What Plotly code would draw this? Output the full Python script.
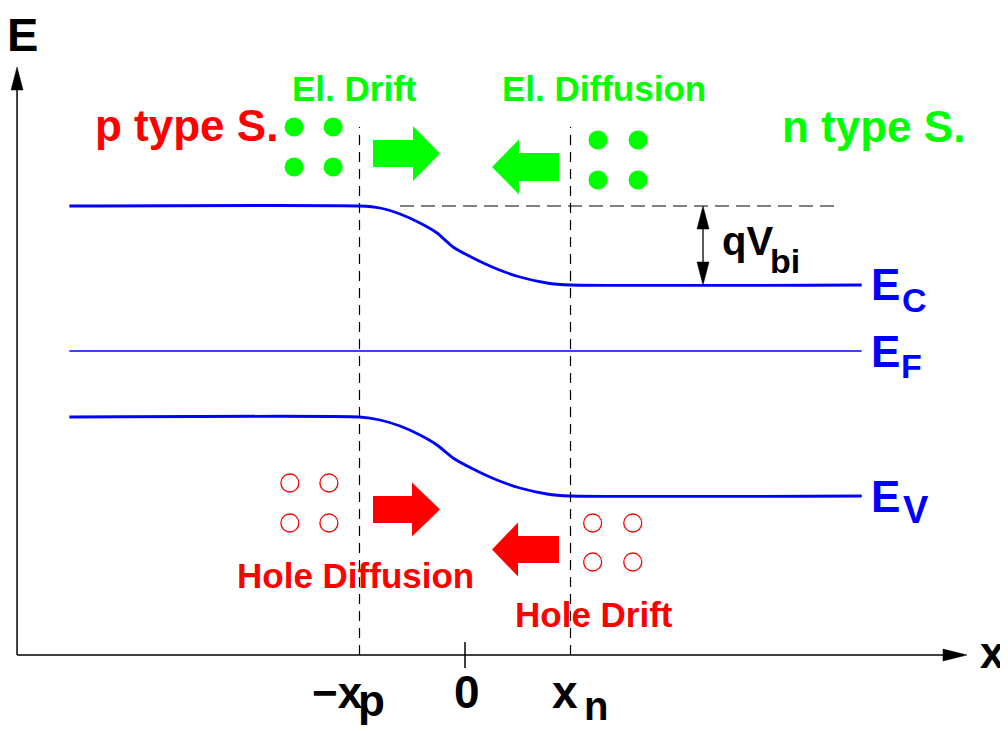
import plotly.graph_objects as go

# ---------------- data (x in units of depletion width, E in arbitrary energy units) -------------
x_band = [-3.75, -1.0, -0.806, -0.616, -0.427, -0.265, -0.114, 0.076, 0.303, 0.521, 0.777, 1.0, 3.76]
Ec = [1.45, 1.45, 1.43, 1.37, 1.28, 1.18, 1.04, 0.93, 0.82, 0.74, 0.68, 0.66, 0.66]
Ev = [-0.66, -0.66, -0.69, -0.75, -0.84, -0.94, -1.07, -1.18, -1.29, -1.37, -1.43, -1.45, -1.45]
x_fermi = [-3.75, 3.76]
Ef = [0.0, 0.0]
x_p, x_n = -1.0, 1.0
tick_zero = 0.0

elec_p_x = [-1.62, -1.25, -1.62, -1.25]
elec_p_E = [2.24, 2.24, 1.84, 1.84]
elec_n_x = [1.26, 1.64, 1.26, 1.64]
elec_n_E = [2.11, 2.11, 1.71, 1.71]
hole_p_x = [-1.66, -1.29, -1.66, -1.29]
hole_p_E = [-1.32, -1.32, -1.72, -1.72]
hole_n_x = [1.21, 1.59, 1.21, 1.59]
hole_n_E = [-1.72, -1.72, -2.11, -2.11]

# ---------------- layout frame ----------------
W, H = 1008, 731
XR = [-4.3318, 5.2227]
YR = [-3.88, 3.43]
sx = W / (XR[1] - XR[0])   # px per x unit
sy = H / (YR[1] - YR[0])   # px per E unit
def dx(p): return p / sx
def dy(p): return p / sy

X0, Y0 = -4.246, -3.04      # axis origin
X_END, Y_END = 4.758, 2.84  # arrow tips

BLUE = "#0000ff"
GREEN = "#00ff00"
RED = "#ff0000"
BLACK = "#000000"
FONT = "Liberation Sans, Arial, Helvetica, sans-serif"

fig = go.Figure()

# bands
band_line = dict(color=BLUE, width=2.8, shape="spline", smoothing=0.5)
fig.add_trace(go.Scatter(x=x_band, y=Ec, mode="lines", line=band_line, hoverinfo="skip"))
fig.add_trace(go.Scatter(x=x_band, y=Ev, mode="lines", line=band_line, hoverinfo="skip"))
fig.add_trace(go.Scatter(x=x_fermi, y=Ef, mode="lines", line=dict(color=BLUE, width=1.5), hoverinfo="skip"))

# carriers
for xs, es in [(elec_p_x, elec_p_E), (elec_n_x, elec_n_E)]:
    fig.add_trace(go.Scatter(x=xs, y=es, mode="markers",
                             marker=dict(size=19, color=GREEN, line=dict(width=0)), hoverinfo="skip"))
for xs, es in [(hole_p_x, hole_p_E), (hole_n_x, hole_n_E)]:
    fig.add_trace(go.Scatter(x=xs, y=es, mode="markers",
                             marker=dict(size=18, color=RED, symbol="circle-open",
                                         line=dict(width=1.3, color=RED)), hoverinfo="skip"))

shapes = []
# axes
shapes.append(dict(type="line", x0=X0, y0=Y0, x1=X0, y1=Y_END - dy(20), line=dict(color=BLACK, width=1.5)))
shapes.append(dict(type="line", x0=X0, y0=Y0, x1=X_END - dx(20), y1=Y0, line=dict(color=BLACK, width=1.5)))

def head(tx, ty, direction, length_px, half_px, color):
    if direction == "up":
        pts = [(tx, ty), (tx - dx(half_px), ty - dy(length_px)), (tx + dx(half_px), ty - dy(length_px))]
    elif direction == "down":
        pts = [(tx, ty), (tx - dx(half_px), ty + dy(length_px)), (tx + dx(half_px), ty + dy(length_px))]
    elif direction == "right":
        pts = [(tx, ty), (tx - dx(length_px), ty + dy(half_px)), (tx - dx(length_px), ty - dy(half_px))]
    else:
        pts = [(tx, ty), (tx + dx(length_px), ty + dy(half_px)), (tx + dx(length_px), ty - dy(half_px))]
    path = "M " + " L ".join(f"{a},{b}" for a, b in pts) + " Z"
    return dict(type="path", path=path, fillcolor=color, line=dict(color=color, width=0.5))

shapes.append(head(X0, Y_END, "up", 23, 6, BLACK))
shapes.append(head(X_END, Y0, "right", 24, 6, BLACK))

# tick at 0
shapes.append(dict(type="line", x0=tick_zero, x1=tick_zero, y0=Y0 + dy(13), y1=Y0 - dy(13),
                   line=dict(color=BLACK, width=1.5)))

# depletion edges (dashed)
top_dash = 2.24
for xv in (x_p, x_n):
    shapes.append(dict(type="line", x0=xv, x1=xv, y0=Y0, y1=top_dash,
                       line=dict(color=BLACK, width=1.2, dash="10px,7px")))
# reference dashed line at Ec(p)
shapes.append(dict(type="line", x0=-0.616, x1=3.507, y0=Ec[0], y1=Ec[0],
                   line=dict(color=BLACK, width=1.2, dash="14px,7px")))

# qVbi double arrow
xq = 2.256
shapes.append(dict(type="line", x0=xq, x1=xq, y0=Ec[0] - dy(15), y1=Ec[-1] + dy(15),
                   line=dict(color=BLACK, width=1.3)))
shapes.append(head(xq, Ec[0], "up", 23, 6, BLACK))
shapes.append(head(xq, Ec[-1], "down", 23, 6, BLACK))

# block arrows
def block(x_tail, x_tip, yc, body_half_px, head_half_px, head_len_px, color):
    s = 1 if x_tip > x_tail else -1
    xb = x_tip - s * dx(head_len_px)
    pts = [(x_tail, yc - dy(body_half_px)), (xb, yc - dy(body_half_px)), (xb, yc - dy(head_half_px)),
           (x_tip, yc), (xb, yc + dy(head_half_px)), (xb, yc + dy(body_half_px)), (x_tail, yc + dy(body_half_px))]
    path = "M " + " L ".join(f"{a},{b}" for a, b in pts) + " Z"
    return dict(type="path", path=path, fillcolor=color, line=dict(color=color, width=0))

shapes.append(block(-0.872, -0.237, 1.975, 13.5, 27.5, 27, GREEN))
shapes.append(block(0.891, 0.256, 1.84, 14, 27.5, 27, GREEN))
shapes.append(block(-0.872, -0.237, -1.585, 13.5, 27, 28, RED))
shapes.append(block(0.891, 0.256, -1.985, 13.5, 27, 26, RED))

annotations = []
def txt(x, y, s, size, color, xanchor="center"):
    annotations.append(dict(x=x, y=y, text=s, showarrow=False, xanchor=xanchor, yanchor="middle",
                            font=dict(family=FONT, size=size, color=color), borderpad=0))

txt(-4.19, 3.17, "<b>E</b>", 47, BLACK)
txt(5.0, -3.018, "<b>x</b>", 44, BLACK)
txt(-1.047, 2.621, "<b>El. Drift</b>", 35, GREEN)
txt(1.313, 2.621, "<b>El. Diffusion</b>", 35, GREEN)
txt(-2.64, 2.252, "<b>p type S.</b>", 44, RED)
txt(3.872, 2.242, "<b>n type S.</b>", 44, GREEN)
txt(-1.038, -2.249, "<b>Hole Diffusion</b>", 35, RED)
txt(1.223, -2.639, "<b>Hole Drift</b>", 35, RED)
# band labels
txt(4.133, 0.662, "<b>E</b>", 44, BLUE, "right")
txt(4.133, 0.508, "<b>C</b>", 34, BLUE, "left")
txt(4.133, -0.008, "<b>E</b>", 44, BLUE, "right")
txt(4.12, -0.152, "<b>F</b>", 34, BLUE, "left")
txt(4.133, -1.458, "<b>E</b>", 44, BLUE, "right")
txt(4.142, -1.588, "<b>V</b>", 38, BLUE, "left")
txt(2.93, 1.099, "<b>qV</b>", 40, BLACK, "right")
txt(2.88, 0.898, "<b>bi</b>", 34, BLACK, "left")
# x ticks
txt(-0.96, -3.411, "<b>\u2212x</b>", 44, BLACK, "right")
txt(-1.02, -3.498, "<b>p</b>", 44, BLACK, "left")
txt(0.019, -3.411, "<b>0</b>", 46, BLACK)
txt(1.081, -3.411, "<b>x</b>", 46, BLACK, "right")
txt(1.118, -3.551, "<b>n</b>", 40, BLACK, "left")

fig.update_layout(
    width=W, height=H, margin=dict(l=0, r=0, t=0, b=0, pad=0),
    paper_bgcolor="white", plot_bgcolor="white", showlegend=False,
    xaxis=dict(range=XR, visible=False, fixedrange=True),
    yaxis=dict(range=YR, visible=False, fixedrange=True),
    shapes=shapes, annotations=annotations,
)
fig.write_html("out.html")
